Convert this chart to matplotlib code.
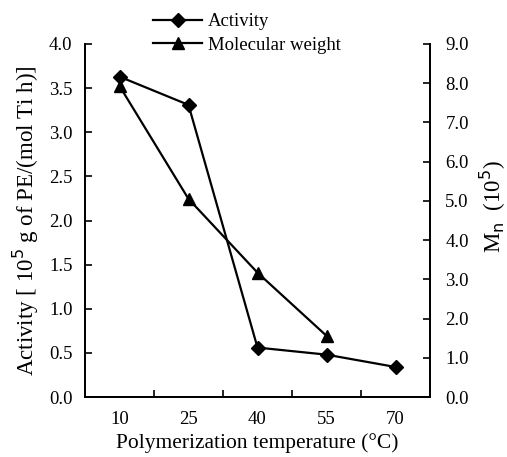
import matplotlib
matplotlib.use("Agg")
import matplotlib.pyplot as plt
from matplotlib.lines import Line2D

plt.rcParams['font.family'] = ['Liberation Serif', 'DejaVu Serif']

temperatures = ["10", "25", "40", "55", "70"]
activity = [3.63, 3.31, 0.56, 0.48, 0.34]
mw_temps = ["10", "25", "40", "55"]
mol_weight = [7.93, 5.05, 3.17, 1.56]
left_ticks = [0.0, 0.5, 1.0, 1.5, 2.0, 2.5, 3.0, 3.5, 4.0]
right_ticks = [0.0, 1.0, 2.0, 3.0, 4.0, 5.0, 6.0, 7.0, 8.0, 9.0]

fig = plt.figure(figsize=(5.07, 4.57), dpi=100)
ax = fig.add_axes([85/507, 1-397/457, 345/507, 353/457])
ax2 = ax.twinx()

x_act = list(range(len(temperatures)))
x_mw = list(range(len(mw_temps)))
ax.plot(x_act, activity, color='black', marker='D', markersize=7, lw=1.6, zorder=3)
ax2.plot(x_mw, mol_weight, color='black', marker='^', markersize=9, lw=1.6, zorder=3)

ax.set_xlim(-0.5, len(temperatures) - 0.5)
ax.set_ylim(0, 4.0)
ax2.set_ylim(0, 9.0)

ax.set_xticks(x_act)
ax.set_xticklabels(temperatures)
ax.set_xticks([i + 0.5 for i in range(len(temperatures) - 1)], minor=True)
ax.tick_params(axis='x', which='major', length=0, pad=10, labelsize=13.5)
ax.tick_params(axis='x', which='minor', direction='in', length=5, width=1.2)

ax.set_yticks(left_ticks)
ax.set_yticklabels([f"{v:.1f}" for v in left_ticks])
ax.tick_params(axis='y', direction='in', length=5, width=1.2, labelsize=13.5, pad=9)
ax2.set_yticks(right_ticks)
ax2.set_yticklabels([f"{v:.1f}" for v in right_ticks])
ax2.tick_params(axis='y', direction='in', length=5, width=1.2, labelsize=13.5, pad=11)

for a in (ax, ax2):
    a.spines['top'].set_visible(False)
    for s in ('left', 'right', 'bottom'):
        a.spines[s].set_linewidth(1.3)

ax.set_xlabel("Polymerization temperature (°C)", fontsize=15.5, labelpad=4)
ax.set_ylabel("Activity [ 10$^5$ g of PE/(mol Ti h)]", fontsize=16.5, labelpad=6)
ax2.set_ylabel("M$_\\mathrm{n}$  (10$^5$)", fontsize=16.5)
ax2.yaxis.set_label_coords(1.14, 0.54)

handles = [Line2D([], [], color='black', marker='D', markersize=7, lw=1.6),
           Line2D([], [], color='black', marker='^', markersize=9, lw=1.6)]
fig.legend(handles, ["Activity", "Molecular weight"], loc='upper left',
           bbox_to_anchor=(140/507, 1.0), frameon=False, fontsize=13.5,
           handlelength=2.6, handletextpad=0.3, labelspacing=0.33, borderaxespad=0.3)

fig.savefig("out.png", dpi=100)
